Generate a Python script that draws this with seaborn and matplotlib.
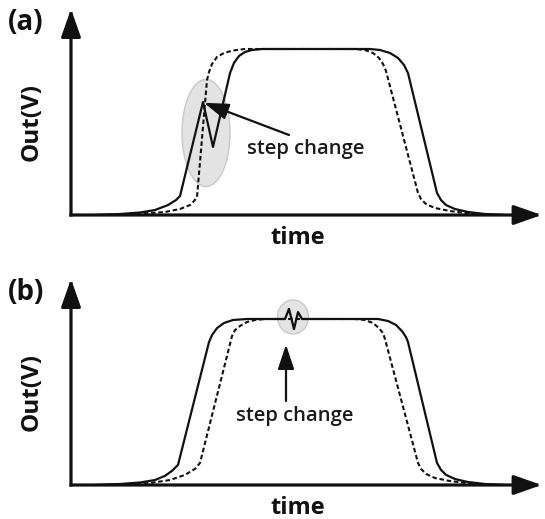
import matplotlib
matplotlib.use("Agg")
import matplotlib.pyplot as plt
import seaborn as sns
from matplotlib.patches import Ellipse

# ---- data: time (arbitrary units) and normalised output (plateau = 1) ----
# panel (a): step change during the rising edge
a_solid_t = [24, 49, 69, 84, 97, 105, 109, 132, 142, 159, 163, 168, 174, 181, 191,
             299, 309, 319, 327, 333, 337, 366, 370, 375, 384, 397, 414, 434]
a_solid_v = [0.000, 0.006, 0.015, 0.030, 0.060, 0.090, 0.114, 0.681, 0.410, 0.855,
             0.916, 0.958, 0.982, 0.994, 1.000, 1.000, 0.994, 0.976, 0.946, 0.904,
             0.855, 0.133, 0.090, 0.060, 0.036, 0.018, 0.006, 0.000]
a_dash_t = [29, 59, 79, 94, 109, 119, 123, 126, 136, 138, 141, 146, 153, 162, 174,
            284, 294, 302, 308, 312, 315, 347, 350, 355, 364, 379, 399, 419]
a_dash_v = [0.000, 0.006, 0.012, 0.018, 0.036, 0.060, 0.084, 0.108, 0.813, 0.861,
            0.910, 0.952, 0.976, 0.991, 1.000, 1.000, 0.994, 0.976, 0.946, 0.910,
            0.867, 0.133, 0.096, 0.066, 0.042, 0.024, 0.009, 0.000]

# panel (b): step change on the plateau
b_solid_t = [24, 49, 69, 84, 94, 101, 107, 138, 141, 146, 153, 162, 176, 214, 218,
             223, 227, 231, 307, 317, 325, 331, 335, 337, 366, 370, 375, 384, 397,
             414, 434]
b_solid_v = [0.000, 0.006, 0.015, 0.030, 0.055, 0.085, 0.121, 0.861, 0.903, 0.945,
             0.976, 0.994, 1.000, 1.000, 1.061, 0.939, 1.042, 1.000, 1.000, 0.988,
             0.964, 0.927, 0.891, 0.861, 0.133, 0.091, 0.061, 0.036, 0.018, 0.006,
             0.000]
b_dash_t = [29, 59, 79, 99, 114, 124, 129, 161, 164, 169, 176, 184, 194, 284, 294,
            302, 308, 312, 314, 347, 350, 355, 364, 379, 399, 419]
b_dash_v = [0.000, 0.006, 0.012, 0.030, 0.061, 0.097, 0.133, 0.897, 0.933, 0.958,
            0.982, 0.994, 1.000, 1.000, 0.994, 0.976, 0.945, 0.915, 0.879, 0.133,
            0.097, 0.067, 0.042, 0.024, 0.009, 0.000]

panel_labels = ["(a)", "(b)"]
y_label = "Out(V)"
x_label = "time"
note_text = "step change"

# ---- figure ----
sns.set_theme(style="white")
plt.rcParams["font.family"] = ["Open Sans", "DejaVu Sans"]

W, H = 545, 519
fig = plt.figure(figsize=(W / 100, H / 100), dpi=100)

T_MAX = 472          # time span of each panel
V_MAX = 206 / 166    # output span of each panel
ax_w = T_MAX / W
ax_h = 206 / H
origin_x = 71 / W

panels = [
    dict(bottom=(H - 215) / H, solid=(a_solid_t, a_solid_v), dash=(a_dash_t, a_dash_v),
         ell=((135, 0.494), 48, 0.645), arr=((218, 0.482), (133, 0.676)),
         txt=(235, 0.398), top_px=0),
    dict(bottom=(H - 485) / H, solid=(b_solid_t, b_solid_v), dash=(b_dash_t, b_dash_v),
         ell=((222, 1.012), 31, 0.205), arr=((215, 0.506), (215, 0.846)),
         txt=(224, 0.418), top_px=270),
]

for label, p in zip(panel_labels, panels):
    ax = fig.add_axes([origin_x, p["bottom"], ax_w, ax_h])
    ax.set_xlim(0, T_MAX)
    ax.set_ylim(0, V_MAX)
    ax.axis("off")

    # highlighted region around the disturbance
    (cx, cy), ew, eh = p["ell"]
    ax.add_patch(Ellipse((cx, cy), ew, eh, facecolor="#e3e3e3", edgecolor="#c9c9c9",
                         lw=1.0, zorder=1))

    sns.lineplot(x=p["dash"][0], y=p["dash"][1], ax=ax, sort=False, estimator=None,
                 color="#111111", lw=1.5, linestyle=(0, (2.2, 1.3)), zorder=3)
    sns.lineplot(x=p["solid"][0], y=p["solid"][1], ax=ax, sort=False, estimator=None,
                 color="#111111", lw=1.6, zorder=4)

    # axes drawn as arrows
    arrow_kw = dict(arrowstyle="-|>,head_length=17,head_width=6", lw=2.3,
                    color="#111111", shrinkA=0, shrinkB=0, mutation_scale=1,
                    capstyle="projecting")
    ax.annotate("", xy=(0.997, 0), xytext=(0, 0), xycoords="axes fraction",
                textcoords="axes fraction", arrowprops=arrow_kw, annotation_clip=False)
    ax.annotate("", xy=(0, 1), xytext=(0, 0), xycoords="axes fraction",
                textcoords="axes fraction", arrowprops=arrow_kw, annotation_clip=False)

    # step-change pointer
    (tx, ty), (hx, hy) = p["arr"]
    ax.annotate("", xy=(hx, hy), xytext=(tx, ty),
                arrowprops=dict(arrowstyle="-|>,head_length=15,head_width=5", lw=1.6,
                                color="#111111", shrinkA=0, shrinkB=0,
                                mutation_scale=1), zorder=5)
    ax.text(p["txt"][0], p["txt"][1], note_text, ha="center", va="center",
            fontsize=14.5, fontweight="semibold", color="#1a1a1a")

    top = p["top_px"]
    fig.text(26 / W, 1 - (top + 23) / H, label, ha="center", va="center",
             fontsize=20, fontweight="bold", color="#111111")
    fig.text(32 / W, 1 - (top + 122) / H, y_label, ha="center", va="center",
             rotation=90, fontsize=17.5, fontweight="bold", color="#111111")
    fig.text(298 / W, 1 - (top + 238) / H, x_label, ha="center", va="center",
             fontsize=17, fontweight="bold", color="#111111")

fig.savefig("out.png", dpi=100)
